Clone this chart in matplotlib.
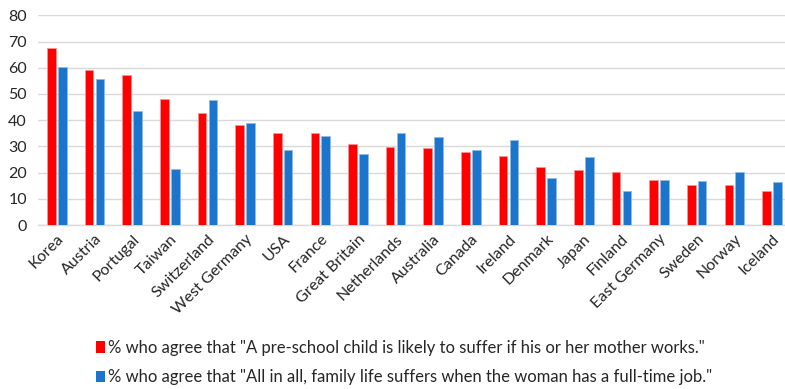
import numpy as np
import matplotlib.pyplot as plt
from matplotlib.patches import Patch

plt.rcParams['font.family'] = ['Lato', 'DejaVu Sans']

countries = ['Korea', 'Austria', 'Portugal', 'Taiwan', 'Switzerland', 'West Germany',
             'USA', 'France', 'Great Britain', 'Netherlands', 'Australia', 'Canada',
             'Ireland', 'Denmark', 'Japan', 'Finland', 'East Germany', 'Sweden',
             'Norway', 'Iceland']
child_suffers = [67.4, 59.1, 57.4, 48.1, 42.6, 38.2, 35.1, 35.0, 30.8, 29.7,
                 29.2, 27.8, 26.3, 22.0, 20.8, 20.4, 17.0, 15.2, 15.1, 13.1]
family_suffers = [60.3, 55.6, 43.4, 21.5, 47.6, 38.8, 28.5, 33.9, 27.2, 35.0,
                  33.4, 28.6, 32.6, 18.0, 26.0, 12.9, 17.0, 16.6, 20.4, 16.3]
label_child = '% who agree that "A pre-school child is likely to suffer if his or her mother works."'
label_family = '% who agree that "All in all, family life suffers when the woman has a full-time job."'
yticks = [0, 10, 20, 30, 40, 50, 60, 70, 80]

red = '#ff0000'
blue = '#1b75cc'

fig = plt.figure(figsize=(7.85, 3.89), dpi=100)
W, H = 785, 389
left, right, top, bottom = 38, 790.8, 15.3, 225
ax = fig.add_axes([left / W, 1 - bottom / H, (right - left) / W, (bottom - top) / H])

x = np.arange(len(countries))
bw = 0.23
off = 0.145
ax.bar(x - off, child_suffers, bw, color=red, edgecolor='#ff9090', linewidth=0.6, zorder=3)
ax.bar(x + off, family_suffers, bw, color=blue, edgecolor='#8fbbe6', linewidth=0.6, zorder=3)

ax.set_xlim(-0.5, len(countries) - 0.5)
ax.set_ylim(0, 80)
ax.set_yticks(yticks)
ax.yaxis.grid(True, color='#d9d9d9', linewidth=1.0, zorder=0)
ax.set_axisbelow(True)
for s in ['top', 'right', 'left']:
    ax.spines[s].set_visible(False)
ax.spines['bottom'].set_color('#d9d9d9')
ax.spines['bottom'].set_linewidth(1.0)
ax.tick_params(axis='both', length=0, labelsize=11.5, colors='#262626')
ax.tick_params(axis='y', pad=8)
ax.set_xticks(x)
ax.set_xticklabels(countries, rotation=45, ha='right', rotation_mode='anchor')
ax.tick_params(axis='x', pad=5)

handles = [Patch(facecolor=red, edgecolor='none'), Patch(facecolor=blue, edgecolor='none')]
fig.legend(handles, [label_child, label_family], loc='upper left',
           bbox_to_anchor=(81 / W, 1 - 325 / H), frameon=False, fontsize=12,
           handlelength=0.55, handleheight=0.7, handletextpad=0.2, labelspacing=0.8,
           labelcolor='#262626')

fig.savefig('out.png', dpi=100)
